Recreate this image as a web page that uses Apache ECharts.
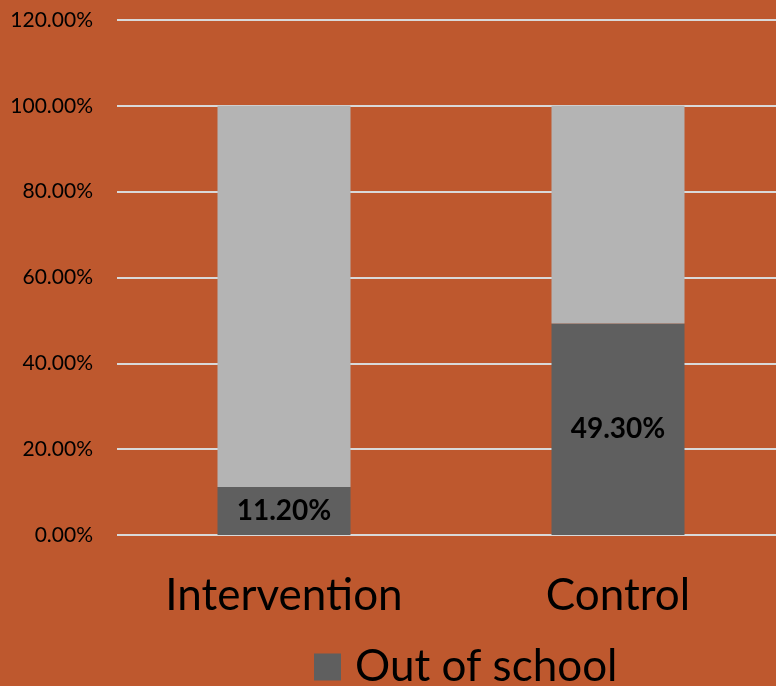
<!DOCTYPE html>
<html><head><meta charset="utf-8">
<script src="https://cdn.jsdelivr.net/npm/echarts@6/dist/echarts.min.js"></script>
<style>html,body{margin:0;padding:0;background:#BE582E;}#c{width:776px;height:686px;}</style>
</head><body><div id="c"></div>
<script>
const categories = ['Intervention', 'Control'];
const outOfSchool = [11.2, 49.3];
const inSchool = [88.8, 50.7];
const yTicks = [0, 20, 40, 60, 80, 100, 120];

const chart = echarts.init(document.getElementById('c'));
const font = 'Lato, "Open Sans", sans-serif';
chart.setOption({
  backgroundColor: '#BE582E',
  animation: false,
  grid: { left: 117, top: 20, width: 668, height: 515, outerBoundsMode: 'none' },
  xAxis: {
    type: 'category', data: categories,
    axisLine: { show: false }, axisTick: { show: false },
    axisLabel: { fontSize: 44, color: '#000', fontFamily: font, margin: 39 }
  },
  yAxis: {
    type: 'value', min: 0, max: 120, interval: 20,
    axisLine: { show: false }, axisTick: { show: false },
    splitLine: { lineStyle: { color: '#D9D9D9', width: 2 } },
    axisLabel: { fontSize: 21, color: '#000', fontFamily: font, margin: 24,
      formatter: v => v.toFixed(2) + '%' }
  },
  legend: {
    data: ['Out of school'], bottom: -8, left: 309,
    itemWidth: 27, itemHeight: 27, itemGap: 14,
    icon: 'rect',
    textStyle: { fontSize: 44, color: '#000', fontFamily: font, padding: [0, 0, 0, 9] }
  },
  series: [
    { name: 'Out of school', type: 'bar', stack: 's', data: outOfSchool, barWidth: 133,
      itemStyle: { color: '#5F5F5F' },
      label: { show: true, position: 'inside', fontSize: 28, fontWeight: 'bold', color: '#000', fontFamily: font,
        formatter: p => p.value.toFixed(2) + '%' } },
    { name: 'In school', type: 'bar', stack: 's', data: inSchool, barWidth: 133,
      itemStyle: { color: '#B4B4B4' } }
  ]
});
</script></body></html>
